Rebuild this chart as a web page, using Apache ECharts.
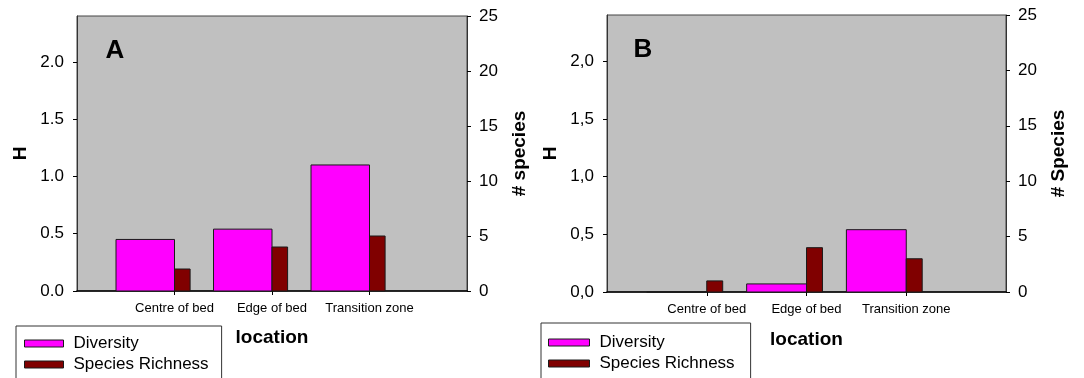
<!DOCTYPE html>
<html><head><meta charset="utf-8">
<script src="https://cdn.jsdelivr.net/npm/echarts@6/dist/echarts.min.js"></script>
<style>html,body{margin:0;padding:0;background:#fff}#c{width:1084px;height:378px}</style>
</head><body><div id="c"></div>
<script>
// ---- data ----
const categories = ['Centre of bed', 'Edge of bed', 'Transition zone'];
const diversityA = [0.45, 0.54, 1.10];
const richnessA = [2, 4, 5];
const diversityB = [0, 0.07, 0.54];
const richnessB = [1, 4, 3];
const hTicks = [0, 0.5, 1.0, 1.5, 2.0];
const speciesTicks = [0, 5, 10, 15, 20, 25];
const seriesNames = ['Diversity', 'Species Richness'];
const panelLabels = ['A', 'B'];
const rightAxisNames = ['# species', '# Species'];
const xAxisName = 'location';
const leftAxisName = 'H';

// ---- layout / style ----
const FONT = '"Liberation Sans", Arial, sans-serif';
const grids = [
  { left: 77, top: 16, width: 390, height: 275 },
  { left: 607, top: 15, width: 399, height: 277 }
];
const axisData = ['', ...categories, ' '];
const colors = ['#ff00ff', '#800000'];

function barRender(offsetFrac, widthFrac) {
  return function (params, api) {
    const x = api.value(0), y = api.value(1);
    const top = api.coord([x, y]);
    const base = api.coord([x, 0]);
    const band = api.size([1, 0])[0];
    return {
      type: 'rect',
      shape: { x: top[0] + offsetFrac * band, y: top[1], width: widthFrac * band, height: base[1] - top[1] },
      style: { fill: api.visual('color'), stroke: '#1a1a1a', lineWidth: 1 }
    };
  };
}

const xAxes = [], yAxes = [], series = [], legends = [], graphics = [];
const panels = [
  { div: diversityA, rich: richnessA, fmt: v => v.toFixed(1) },
  { div: diversityB, rich: richnessB, fmt: v => v.toFixed(1).replace('.', ',') }
];
panels.forEach((p, i) => {
  xAxes.push({
    type: 'category', gridIndex: i, data: axisData, boundaryGap: false,
    name: xAxisName, nameLocation: 'middle', nameGap: i === 0 ? 37 : 38,
    nameTextStyle: { fontFamily: FONT, fontSize: 19, fontWeight: 'bold', color: '#000' },
    axisLine: { show: true, lineStyle: { color: '#000', width: 1.5 } },
    axisTick: { show: true, length: 4, inside: false, interval: (idx) => idx >= 1 && idx <= categories.length, lineStyle: { color: '#000' } },
    axisLabel: { interval: 0, margin: 11, fontFamily: FONT, fontSize: 13, color: '#000' },
    splitLine: { show: false }
  });
  yAxes.push({
    type: 'value', gridIndex: i, position: 'left', min: 0, max: 2.4, interval: 0.5,
    name: leftAxisName, nameLocation: 'middle', nameGap: 47,
    nameTextStyle: { fontFamily: FONT, fontSize: 19, fontWeight: 'bold', color: '#000' },
    axisLine: { show: true, lineStyle: { color: '#333' } },
    axisTick: { show: true, length: 4, customValues: hTicks, lineStyle: { color: '#000' } },
    axisLabel: { customValues: hTicks, margin: 13, fontFamily: FONT, fontSize: 17, color: '#000', formatter: p.fmt },
    splitLine: { show: false }
  });
  yAxes.push({
    type: 'value', gridIndex: i, position: 'right', min: 0, max: 25, interval: 5,
    name: rightAxisNames[i], nameLocation: 'middle', nameGap: 43,
    nameTextStyle: { fontFamily: FONT, fontSize: 19, fontWeight: 'bold', color: '#000' },
    axisLine: { show: true, lineStyle: { color: '#333' } },
    axisTick: { show: true, length: 4, lineStyle: { color: '#000' } },
    axisLabel: { margin: 12, fontFamily: FONT, fontSize: 17, color: '#000', formatter: v => String(Math.round(v)) },
    splitLine: { show: false }
  });
  series.push({
    type: 'custom', name: seriesNames[0], xAxisIndex: i, yAxisIndex: i * 2,
    itemStyle: { color: colors[0], borderColor: '#1a1a1a', borderWidth: 1 },
    renderItem: barRender(-0.6, 0.6),
    data: categories.map((c, k) => [c, p.div[k]])
  });
  series.push({
    type: 'custom', name: seriesNames[1], xAxisIndex: i, yAxisIndex: i * 2 + 1,
    itemStyle: { color: colors[1], borderColor: '#1a1a1a', borderWidth: 1 },
    renderItem: barRender(0, 0.16),
    data: categories.map((c, k) => [c, p.rich[k]])
  });
});

legends.push({
  data: seriesNames, orient: 'vertical', left: 16, top: 326, height: 80, icon: 'rect',
  itemWidth: 39, itemHeight: 7, itemGap: 4, padding: [9, 13, 9, 8],
  backgroundColor: '#fff', borderColor: '#333', borderWidth: 1, borderRadius: 0,
  selectedMode: false,
  itemStyle: { borderColor: '#1a1a1a', borderWidth: 1 },
  textStyle: { fontFamily: FONT, fontSize: 17, color: '#000', padding: [0, 0, 0, 5] }
});
legends.push({
  data: seriesNames, orient: 'vertical', left: 541, top: 323, height: 80, icon: 'rect',
  itemWidth: 41, itemHeight: 7, itemGap: 4, padding: [11, 16, 9, 7],
  backgroundColor: '#fff', borderColor: '#333', borderWidth: 1, borderRadius: 0,
  selectedMode: false,
  itemStyle: { borderColor: '#1a1a1a', borderWidth: 1 },
  textStyle: { fontFamily: FONT, fontSize: 17, color: '#000', padding: [0, 0, 0, 5] }
});

graphics.push({ type: 'text', x: 115, y: 51, z: 100,
  style: { text: panelLabels[0], font: 'bold 26px "Liberation Sans", Arial', fill: '#000', align: 'center', verticalAlign: 'middle' } });
graphics.push({ type: 'text', x: 643, y: 50, z: 100,
  style: { text: panelLabels[1], font: 'bold 26px "Liberation Sans", Arial', fill: '#000', align: 'center', verticalAlign: 'middle' } });

const chart = echarts.init(document.getElementById('c'), null, { renderer: 'canvas' });
chart.setOption({
  animation: false,
  backgroundColor: '#fff',
  grid: grids.map(g => Object.assign({ show: true, backgroundColor: '#c0c0c0', borderColor: '#444', borderWidth: 1 }, g)),
  xAxis: xAxes,
  yAxis: yAxes,
  legend: legends,
  series: series,
  graphic: graphics
});
</script>
</body></html>
